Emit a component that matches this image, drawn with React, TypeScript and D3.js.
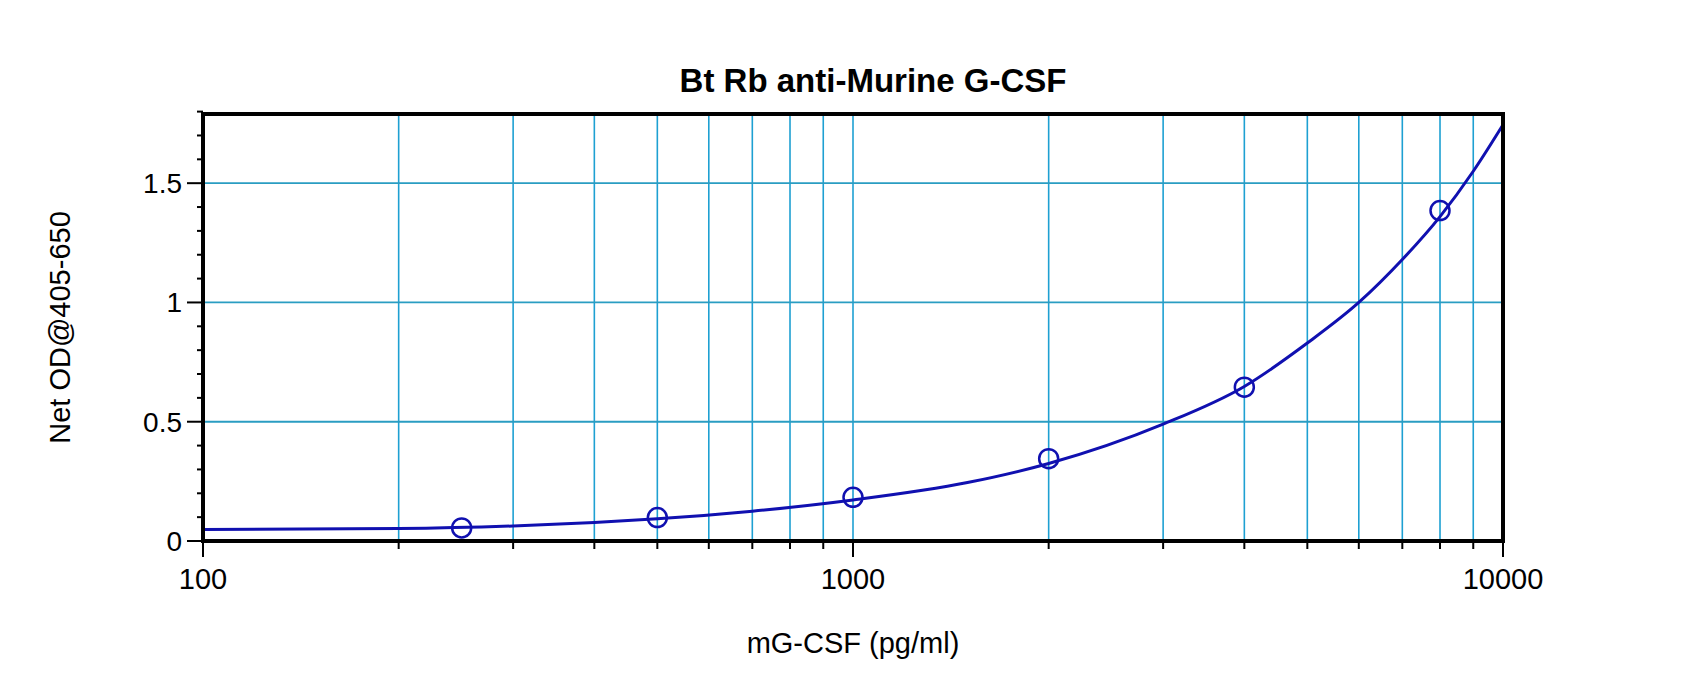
import * as d3 from "d3";

// measured standards
const standardConc = [250, 500, 1000, 2000, 4000, 8000];
const standardOD = [0.055, 0.098, 0.183, 0.345, 0.645, 1.385];

// fitted curve
const curveConc = [100, 200, 300, 400, 500, 700, 1000, 1500, 2000, 3000, 4000, 5000, 6000, 7000, 8000, 9000, 10000];
const curveOD = [0.048, 0.052, 0.063, 0.078, 0.093, 0.125, 0.172, 0.245, 0.325, 0.49, 0.648, 0.83, 1.0, 1.18, 1.36, 1.55, 1.745];

const xMajorTicks = [100, 1000, 10000];
const xMinorTicks = [200, 300, 400, 500, 600, 700, 800, 900, 2000, 3000, 4000, 5000, 6000, 7000, 8000, 9000];
const yMajorTicks = [0, 0.5, 1, 1.5];
const yMinorTicks = [0.1, 0.2, 0.3, 0.4, 0.6, 0.7, 0.8, 0.9, 1.1, 1.2, 1.3, 1.4, 1.6, 1.7];
const yTickLabels = ["0", "0.5", "1", "1.5"];

const TITLE = "Bt Rb anti-Murine G-CSF";
const X_TITLE = "mG-CSF (pg/ml)";
const Y_TITLE = "Net OD@405-650";

const W = 1700;
const H = 694;
const margin = { top: 114, right: 197, bottom: 153, left: 203 };
const FONT = "'Liberation Sans', Arial, sans-serif";
const GRID = "#1ea0d2";
const BLUE = "#1010b0";

export default function App() {
  const x = d3.scaleLog().domain([100, 10000]).range([margin.left, W - margin.right]);
  const y = d3.scaleLinear().domain([0, 1.79]).range([H - margin.bottom, margin.top]);
  const x0 = margin.left;
  const x1 = W - margin.right;
  const y0 = H - margin.bottom;
  const y1 = margin.top;

  const line = d3
    .line<number>()
    .x((_, i) => x(curveConc[i]))
    .y((d) => y(d))
    .curve(d3.curveMonotoneX);

  return (
    <div style={{ position: "absolute", left: 0, top: 0 }}>
      <svg width={W} height={H} style={{ display: "block", background: "#fff" }} fontFamily={FONT}>
        <rect x={0} y={0} width={W} height={H} fill="#fff" />

        {/* grid */}
        {xMinorTicks.concat([1000]).map((t) => (
          <line key={"gx" + t} x1={x(t)} x2={x(t)} y1={y1} y2={y0} stroke={GRID} strokeWidth={1.6} />
        ))}
        {yMajorTicks.slice(1).map((t) => (
          <line key={"gy" + t} x1={x0} x2={x1} y1={y(t)} y2={y(t)} stroke="#2a9dc2" strokeWidth={1.8} />
        ))}

        {/* fitted curve */}
        <path d={line(curveOD) ?? ""} fill="none" stroke={BLUE} strokeWidth={3} />

        {/* standards */}
        {standardConc.map((c, i) => (
          <circle key={"p" + c} cx={x(c)} cy={y(standardOD[i])} r={9.5} fill="none" stroke={BLUE} strokeWidth={2.5} />
        ))}

        {/* frame */}
        <rect x={x0} y={y1} width={x1 - x0} height={y0 - y1} fill="none" stroke="#000" strokeWidth={4} />

        {/* x ticks */}
        {xMajorTicks.map((t) => (
          <line key={"xt" + t} x1={x(t)} x2={x(t)} y1={y0} y2={y0 + 16} stroke="#000" strokeWidth={2} />
        ))}
        {xMinorTicks.map((t) => (
          <line key={"xm" + t} x1={x(t)} x2={x(t)} y1={y0} y2={y0 + 8} stroke="#000" strokeWidth={2} />
        ))}
        {xMajorTicks.map((t) => (
          <text key={"xl" + t} x={x(t)} y={y0 + 48} textAnchor="middle" fontSize={29} fill="#000">
            {d3.format("d")(t)}
          </text>
        ))}

        {/* y ticks */}
        {yMajorTicks.map((t) => (
          <line key={"yt" + t} x1={x0 - 16} x2={x0} y1={y(t)} y2={y(t)} stroke="#000" strokeWidth={2} />
        ))}
        {yMinorTicks.concat([1.8]).map((t) => (
          <line key={"ym" + t} x1={x0 - 6} x2={x0} y1={y(t)} y2={y(t)} stroke="#000" strokeWidth={2} />
        ))}
        {yMajorTicks.map((t, i) => (
          <text key={"yl" + t} x={x0 - 21} y={y(t) + 10} textAnchor="end" fontSize={28} fill="#000">
            {yTickLabels[i]}
          </text>
        ))}

        {/* titles */}
        <text x={873} y={92} textAnchor="middle" fontSize={33} fontWeight="bold" fill="#000">
          {TITLE}
        </text>
        <text x={(x0 + x1) / 2} y={653} textAnchor="middle" fontSize={29} fill="#000">
          {X_TITLE}
        </text>
        <text
          transform={`translate(70, ${(y0 + y1) / 2}) rotate(-90)`}
          textAnchor="middle"
          fontSize={29}
          fill="#000"
        >
          {Y_TITLE}
        </text>
      </svg>
    </div>
  );
}
